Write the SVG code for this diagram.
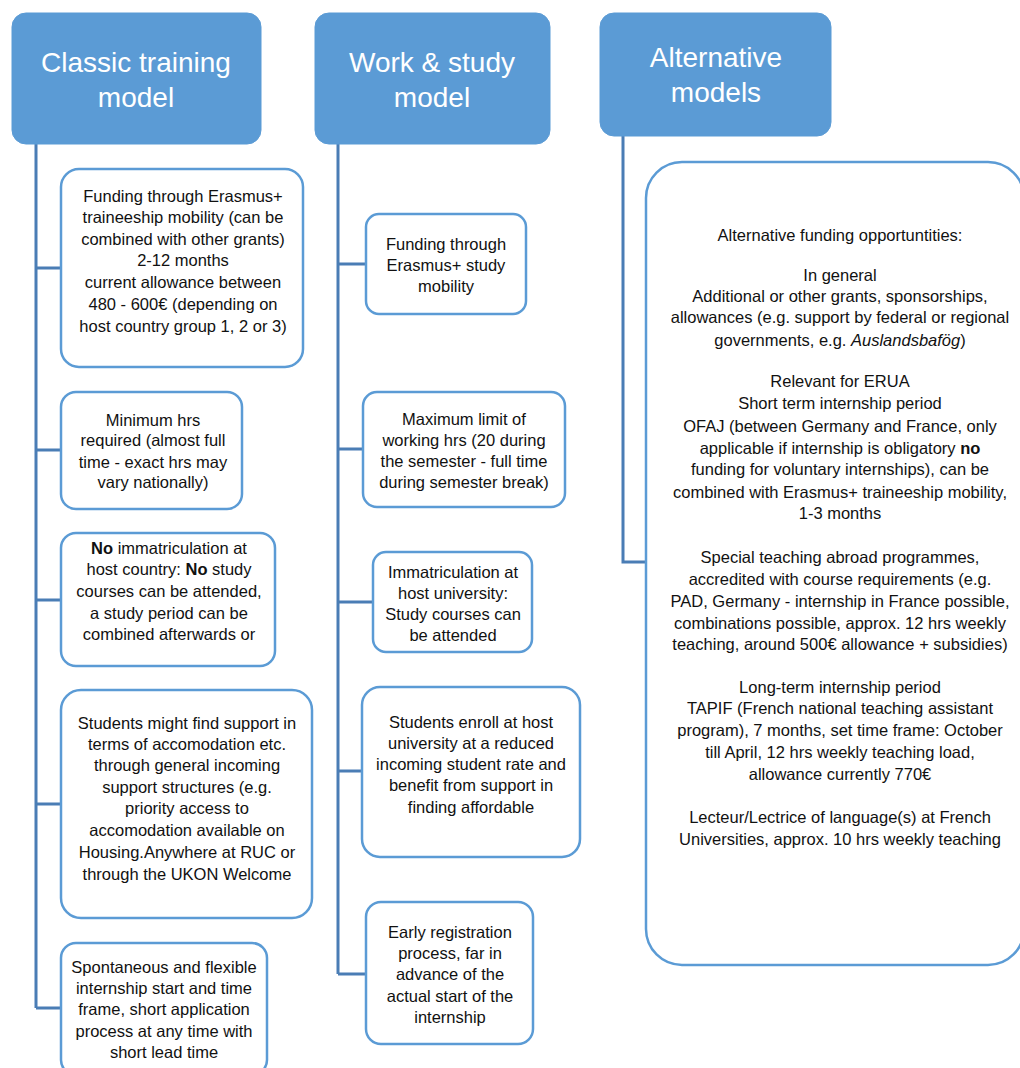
<svg xmlns="http://www.w3.org/2000/svg" width="1020" height="1068" viewBox="0 0 1020 1068">
<style>
.hdr{fill:#5B9BD5;stroke:#5B9BD5;stroke-width:1}
.ht{font-family:"Liberation Sans",Arial,sans-serif;font-size:28px;fill:#fff;text-anchor:middle}
.box{fill:#fff;stroke:#5B9BD5;stroke-width:2.5}
.t{font-family:"Liberation Sans",Arial,sans-serif;font-size:16.5px;fill:#111;text-anchor:middle}
.con{fill:none;stroke:#4A7DB5;stroke-width:3}
</style>
<rect width="1020" height="1068" fill="#fff"/>
<g id="connectors">
<path class="con" d="M36 144V1008M36 268H61M36 450H61M36 600H61M36 804H61M36 1008H61"/>
<path class="con" d="M338 144V974M338 264H366M338 449H363M338 602H373M338 771H362M338 974H366"/>
<path class="con" d="M623 136V562H646"/>
</g>
<g id="classic-training-model">
<rect class="hdr" x="12" y="13" width="249" height="131" rx="14"/>
<text class="ht" x="136" y="72">Classic training</text>
<text class="ht" x="136" y="107">model</text>
</g>
<g id="work-study-model">
<rect class="hdr" x="315" y="13" width="235" height="131" rx="14"/>
<text class="ht" x="432" y="72">Work &amp; study</text>
<text class="ht" x="432" y="107">model</text>
</g>
<g id="alternative-models">
<rect class="hdr" x="600" y="13" width="231" height="123" rx="14"/>
<text class="ht" x="716" y="67">Alternative</text>
<text class="ht" x="716" y="102">models</text>
</g>
<g id="c1">
<rect class="box" x="61" y="169" width="242" height="198" rx="18"/>
<text class="t" x="183" y="202">Funding through Erasmus+</text>
<text class="t" x="183" y="223">traineeship mobility (can be</text>
<text class="t" x="183" y="245">combined with other grants)</text>
<text class="t" x="183" y="266">2-12 months</text>
<text class="t" x="183" y="288">current allowance between</text>
<text class="t" x="183" y="310">480 - 600€ (depending on</text>
<text class="t" x="183" y="332">host country group 1, 2 or 3)</text>
</g>
<g id="c2">
<rect class="box" x="61" y="392" width="181" height="117" rx="15"/>
<text class="t" x="153" y="426">Minimum hrs</text>
<text class="t" x="153" y="446">required (almost full</text>
<text class="t" x="153" y="468">time - exact hrs may</text>
<text class="t" x="153" y="488">vary nationally)</text>
</g>
<g id="c3">
<rect class="box" x="61" y="533" width="214" height="133" rx="15"/>
<text class="t" x="169" y="554"><tspan font-weight="bold">No</tspan> immatriculation at</text>
<text class="t" x="169" y="575">host country: <tspan font-weight="bold">No</tspan> study</text>
<text class="t" x="169" y="597">courses can be attended,</text>
<text class="t" x="169" y="619">a study period can be</text>
<text class="t" x="169" y="640">combined afterwards or</text>
</g>
<g id="c4">
<rect class="box" x="61" y="690" width="251" height="228" rx="20"/>
<text class="t" x="187" y="729">Students might find support in</text>
<text class="t" x="187" y="750">terms of accomodation etc.</text>
<text class="t" x="187" y="771">through general incoming</text>
<text class="t" x="187" y="793">support structures (e.g.</text>
<text class="t" x="187" y="814">priority access to</text>
<text class="t" x="187" y="836">accomodation available on</text>
<text class="t" x="187" y="858">Housing.Anywhere at RUC or</text>
<text class="t" x="187" y="880">through the UKON Welcome</text>
</g>
<g id="c5">
<rect class="box" x="61" y="943" width="206" height="132" rx="15"/>
<text class="t" x="164" y="973">Spontaneous and flexible</text>
<text class="t" x="164" y="994">internship start and time</text>
<text class="t" x="164" y="1015">frame, short application</text>
<text class="t" x="164" y="1037">process at any time with</text>
<text class="t" x="164" y="1058">short lead time</text>
</g>
<g id="w1">
<rect class="box" x="366" y="214" width="160" height="100" rx="13"/>
<text class="t" x="446" y="250">Funding through</text>
<text class="t" x="446" y="271">Erasmus+ study</text>
<text class="t" x="446" y="292">mobility</text>
</g>
<g id="w2">
<rect class="box" x="363" y="392" width="202" height="115" rx="14"/>
<text class="t" x="464" y="425">Maximum limit of</text>
<text class="t" x="464" y="446">working  hrs (20 during</text>
<text class="t" x="464" y="467">the semester - full time</text>
<text class="t" x="464" y="488">during semester break)</text>
</g>
<g id="w3">
<rect class="box" x="373" y="552" width="159" height="100" rx="13"/>
<text class="t" x="453" y="578">Immatriculation  at</text>
<text class="t" x="453" y="599">host university:</text>
<text class="t" x="453" y="620">Study courses can</text>
<text class="t" x="453" y="641">be attended</text>
</g>
<g id="w4">
<rect class="box" x="362" y="687" width="218" height="170" rx="18"/>
<text class="t" x="471" y="728">Students enroll at host</text>
<text class="t" x="471" y="749">university at a reduced</text>
<text class="t" x="471" y="770">incoming student rate and</text>
<text class="t" x="471" y="791">benefit from support in</text>
<text class="t" x="471" y="813">finding affordable</text>
</g>
<g id="w5">
<rect class="box" x="366" y="902" width="167" height="142" rx="15"/>
<text class="t" x="450" y="938">Early registration</text>
<text class="t" x="450" y="959">process, far in</text>
<text class="t" x="450" y="980">advance of the</text>
<text class="t" x="450" y="1002">actual start of the</text>
<text class="t" x="450" y="1023">internship</text>
</g>
<g id="a1">
<rect class="box" x="646" y="162" width="378" height="803" rx="36"/>
<text class="t" x="840" y="241">Alternative funding opportuntities:</text>
<text class="t" x="840" y="281">In general</text>
<text class="t" x="840" y="302">Additional or other grants, sponsorships,</text>
<text class="t" x="840" y="323">allowances (e.g. support by federal or regional</text>
<text class="t" x="840" y="346">governments, e.g. <tspan font-style="italic">Auslandsbafög</tspan>)</text>
<text class="t" x="840" y="387">Relevant for ERUA</text>
<text class="t" x="840" y="409">Short term internship period</text>
<text class="t" x="840" y="432">OFAJ (between Germany and France, only</text>
<text class="t" x="840" y="454">applicable if internship is obligatory <tspan font-weight="bold">no</tspan></text>
<text class="t" x="840" y="475">funding for voluntary internships), can be</text>
<text class="t" x="840" y="498">combined with Erasmus+ traineeship mobility,</text>
<text class="t" x="840" y="519">1-3 months</text>
<text class="t" x="840" y="563">Special teaching abroad programmes,</text>
<text class="t" x="840" y="585">accredited with course requirements (e.g.</text>
<text class="t" x="840" y="607">PAD, Germany - internship in France possible,</text>
<text class="t" x="840" y="629">combinations possible, approx. 12 hrs weekly</text>
<text class="t" x="840" y="650">teaching, around 500€ allowance + subsidies)</text>
<text class="t" x="840" y="693">Long-term internship period</text>
<text class="t" x="840" y="714">TAPIF (French national teaching assistant</text>
<text class="t" x="840" y="736">program), 7 months, set time frame: October</text>
<text class="t" x="840" y="758">till April, 12 hrs weekly teaching load,</text>
<text class="t" x="840" y="780">allowance currently 770€</text>
<text class="t" x="840" y="823">Lecteur/Lectrice of language(s) at French</text>
<text class="t" x="840" y="845">Universities, approx. 10 hrs weekly teaching</text>
</g>
</svg>
